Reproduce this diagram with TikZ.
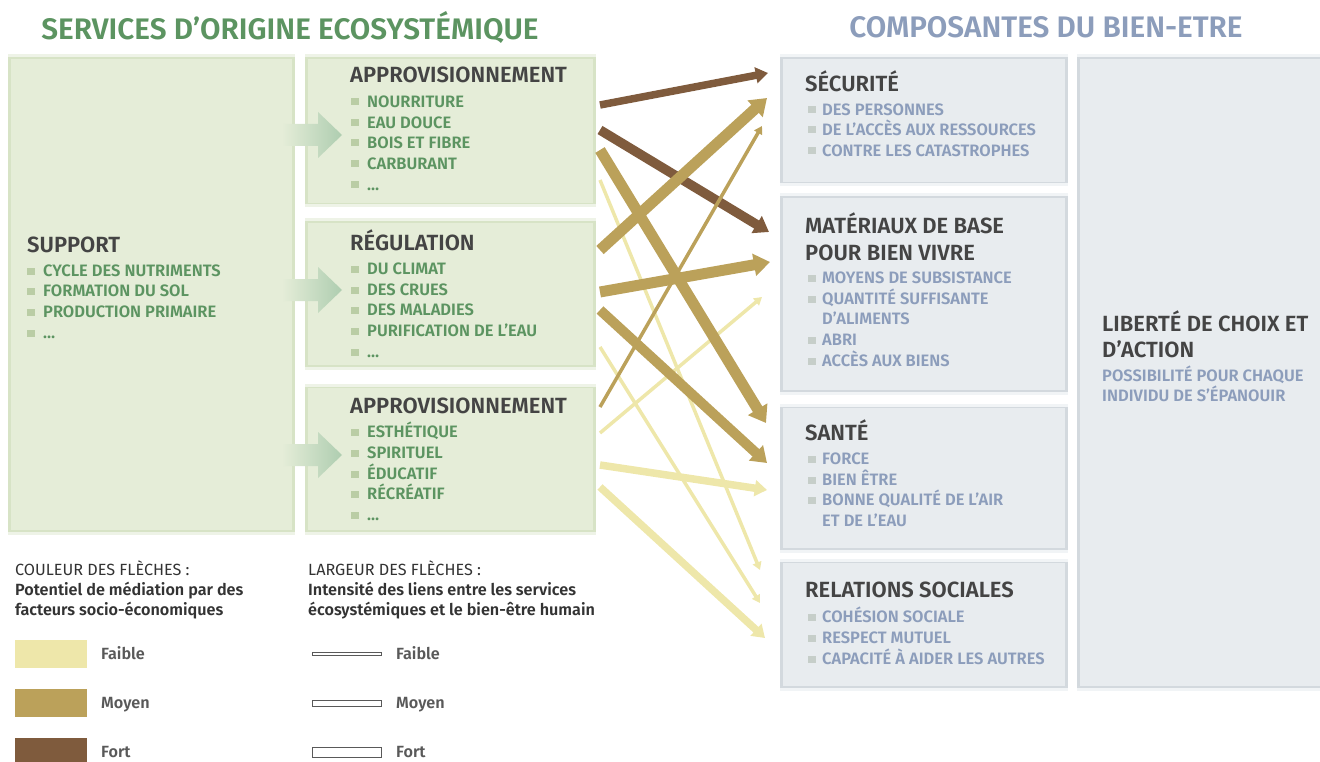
\documentclass[tikz,border=0pt]{standalone}
\usepackage{fontspec}
\setmainfont{Fira Sans}[BoldFont={Fira Sans SemiBold}]
\usetikzlibrary{arrows.meta, positioning, calc}

\definecolor{svcfill}{HTML}{E5EDD8}
\definecolor{svcedge}{HTML}{D7E3C6}
\definecolor{svctop}{HTML}{EEF3E7}
\definecolor{svcgreen}{HTML}{5C9461}
\definecolor{svcbullet}{HTML}{BACDA5}
\definecolor{flowgreen}{HTML}{AECDB0}
\definecolor{wellfill}{HTML}{E8ECEF}
\definecolor{welledge}{HTML}{D3D9DE}
\definecolor{welltop}{HTML}{F1F4F6}
\definecolor{wellblue}{HTML}{8C9DBB}
\definecolor{wellbullet}{HTML}{C6CEC9}
\definecolor{headgray}{HTML}{444444}
\definecolor{leggray}{HTML}{333333}
\definecolor{faiblecol}{HTML}{EEE7AA}
\definecolor{moyencol}{HTML}{BBA15A}
\definecolor{fortcol}{HTML}{7F5B3D}

\begin{document}
\begin{tikzpicture}[
    x=1pt, y=-1pt,
    svcbox/.style={rectangle, fill=svcfill, draw=svcedge, line width=3pt, inner sep=0pt, anchor=north west},
    wellbox/.style={rectangle, fill=wellfill, draw=welledge, line width=3pt, inner sep=0pt, anchor=north west},
    head/.style={anchor=west, inner sep=0pt, text height=15pt, text depth=0pt, text=headgray, font=\fontsize{22}{26}\selectfont\bfseries},
    item/.style={anchor=west, inner sep=0pt, text height=11.3pt, text depth=0pt, font=\fontsize{16.5}{19}\selectfont\bfseries},
    bullet/.style={rectangle, minimum width=8pt, minimum height=7pt, inner sep=0pt},
    legtxt/.style={anchor=west, inner sep=0pt, text height=11pt, text depth=0pt, text=leggray, font=\fontsize{16.2}{19}\selectfont},
    legbold/.style={legtxt, font=\fontsize{16.2}{19}\selectfont\bfseries},
    leglevel/.style={legtxt, text=black!65, font=\fontsize{16.2}{19}\selectfont\bfseries},
    swatch/.style={rectangle, minimum width=72pt, minimum height=28pt, inner sep=0pt},
    widthbar/.style={rectangle, draw=black!65, fill=white, line width=1pt, minimum width=69pt, inner sep=0pt},
    link/.style={-{Triangle[length=4pt 1.1, width=3pt 1.7]}},
    slim/.style={link, line width=3.5pt},
    mid/.style={link, line width=7.5pt},
    heavy/.style={link, line width=11pt}
]
\useasboundingbox (0,0) rectangle (1320,762);

% Titles
\node[inner sep=0pt, text=svcgreen, font=\fontsize{29.7}{34}\selectfont\bfseries] (svctitle) at (290,27) {SERVICES D’ORIGINE ECOSYSTÉMIQUE};
\node[inner sep=0pt, text=wellblue, font=\fontsize{29.7}{34}\selectfont\bfseries] (welltitle) at (1046,27) {COMPOSANTES DU BIEN-ETRE};

% Ecosystem service boxes
\node[svcbox, minimum width=284pt, minimum height=474pt] (support) at (8,56) {};
\node[svcbox, minimum width=288pt, minimum height=147pt] (appro) at (305,56) {};
\node[svcbox, minimum width=288pt, minimum height=145pt] (regul) at (305,220) {};
\node[svcbox, minimum width=288pt, minimum height=145pt] (cultu) at (305,385) {};
\foreach \b in {support,appro,regul,cultu} {
    \draw[svctop, line width=3pt] (\b.north west) -- (\b.north east);
    \draw[svctop, line width=3pt] (\b.south west) -- (\b.south east);
}

% Flow from support to the other services
\foreach \y in {135,290,455} {
    \shade[left color=svcfill, right color=flowgreen] (282,\y-11) -- (318,\y-11) -- (318,\y-23) -- (342,\y) -- (318,\y+23) -- (318,\y+11) -- (282,\y+11) -- cycle;
}

% Support
\node[head] (supporthd) at (27,245) {SUPPORT};
\foreach \y/\txt in {271/CYCLE DES NUTRIMENTS, 291/FORMATION DU SOL, 312/PRODUCTION PRIMAIRE, 333/…} {
    \node[bullet, fill=svcbullet] (supb\y) at (31,\y) {};
    \node[item, text=svcgreen] (supi\y) at (43,\y) {\txt};
}

% Approvisionnement
\node[head] (approhd) at (350,75) {APPROVISIONNEMENT};
\foreach \y/\txt in {102/NOURRITURE, 123/EAU DOUCE, 143/BOIS ET FIBRE, 164/CARBURANT, 185/…} {
    \node[bullet, fill=svcbullet] (apb\y) at (355,\y) {};
    \node[item, text=svcgreen] (api\y) at (367,\y) {\txt};
}

% Regulation
\node[head] (regulhd) at (350,243) {RÉGULATION};
\foreach \y/\txt in {269/DU CLIMAT, 290/DES CRUES, 310/DES MALADIES, 331/PURIFICATION DE L’EAU, 352/…} {
    \node[bullet, fill=svcbullet] (reb\y) at (355,\y) {};
    \node[item, text=svcgreen] (rei\y) at (367,\y) {\txt};
}

% Culturel
\node[head] (cultuhd) at (350,406) {APPROVISIONNEMENT};
\foreach \y/\txt in {432/ESTHÉTIQUE, 453/SPIRITUEL, 474/ÉDUCATIF, 494/RÉCRÉATIF, 515/…} {
    \node[bullet, fill=svcbullet] (cub\y) at (355,\y) {};
    \node[item, text=svcgreen] (cui\y) at (367,\y) {\txt};
}

% Well-being boxes
\node[wellbox, minimum width=285pt, minimum height=126pt] (secu) at (780,56) {};
\node[wellbox, minimum width=285pt, minimum height=195pt] (mater) at (780,195) {};
\node[wellbox, minimum width=285pt, minimum height=143pt] (sante) at (780,405) {};
\node[wellbox, minimum width=285pt, minimum height=126pt] (social) at (780,560) {};
\node[wellbox, minimum width=243pt, minimum height=630pt] (liberte) at (1077,56) {};
\foreach \b in {secu,mater,sante,social,liberte} {
    \draw[welltop, line width=3pt] (\b.north west) -- (\b.north east);
    \draw[welltop, line width=3pt] (\b.south west) -- (\b.south east);
}

% Securite
\node[head] (secuhd) at (805,84) {SÉCURITÉ};
\foreach \y/\txt in {110/DES PERSONNES, 130/DE L’ACCÈS AUX RESSOURCES, 151/CONTRE LES CATASTROPHES} {
    \node[bullet, fill=wellbullet] (seb\y) at (812,\y) {};
    \node[item, text=wellblue] (sei\y) at (822,\y) {\txt};
}

% Materiaux
\node[head] (materhd) at (805,226) {MATÉRIAUX DE BASE};
\node[head] (materhd2) at (805,253) {POUR BIEN VIVRE};
\foreach \y/\txt in {278/MOYENS DE SUBSISTANCE, 299/QUANTITÉ SUFFISANTE, 340/ABRI, 361/ACCÈS AUX BIENS} {
    \node[bullet, fill=wellbullet] (mab\y) at (812,\y) {};
    \node[item, text=wellblue] (mai\y) at (822,\y) {\txt};
}
\node[item, text=wellblue] (mai319) at (822,319) {D’ALIMENTS};

% Sante
\node[head] (santehd) at (805,433) {SANTÉ};
\foreach \y/\txt in {459/FORCE, 480/BIEN ÊTRE, 500/BONNE QUALITÉ DE L’AIR} {
    \node[bullet, fill=wellbullet] (sab\y) at (812,\y) {};
    \node[item, text=wellblue] (sai\y) at (822,\y) {\txt};
}
\node[item, text=wellblue] (sai521) at (822,521) {ET DE L’EAU};

% Relations sociales
\node[head] (socialhd) at (805,590) {RELATIONS SOCIALES};
\foreach \y/\txt in {617/COHÉSION SOCIALE, 638/RESPECT MUTUEL, 659/CAPACITÉ À AIDER LES AUTRES} {
    \node[bullet, fill=wellbullet] (sob\y) at (812,\y) {};
    \node[item, text=wellblue] (soi\y) at (822,\y) {\txt};
}

% Liberte
\node[head] (libhd) at (1102,324) {LIBERTÉ DE CHOIX ET};
\node[head] (libhd2) at (1102,350) {D’ACTION};
\node[item, text=wellblue] (libi1) at (1102,376) {POSSIBILITÉ POUR CHAQUE};
\node[item, text=wellblue] (libi2) at (1102,396) {INDIVIDU DE S’ÉPANOUIR};

% Arrow ends
\coordinate (from1) at (600,105);  \coordinate (to1) at (768,73);
\coordinate (from2) at (600,130);  \coordinate (to2) at (769,232);
\coordinate (from3) at (600,150);  \coordinate (to3) at (766,423);
\coordinate (from4) at (600,180);  \coordinate (to4) at (760,570);
\coordinate (from5) at (600,250);  \coordinate (to5) at (767,98);
\coordinate (from6) at (600,292);  \coordinate (to6) at (770,262);
\coordinate (from7) at (600,310);  \coordinate (to7) at (767,463);
\coordinate (from8) at (600,347);  \coordinate (to8) at (760,603);
\coordinate (from9) at (600,407);  \coordinate (to9) at (762,126);
\coordinate (from10) at (600,433); \coordinate (to10) at (762,297);
\coordinate (from11) at (600,465); \coordinate (to11) at (767,490);
\coordinate (from12) at (600,487); \coordinate (to12) at (765,638);

% Links: faible, then fort, then moyen on top
\draw[slim, faiblecol] (from4) -- (to4);
\draw[slim, faiblecol] (from8) -- (to8);
\draw[slim, faiblecol] (from10) -- (to10);
\draw[mid, faiblecol] (from11) -- (to11);
\draw[mid, faiblecol] (from12) -- (to12);
\draw[mid, fortcol] (from1) -- (to1);
\draw[heavy, fortcol, line width=9.5pt] (from2) -- (to2);
\draw[heavy, moyencol] (from3) -- (to3);
\draw[heavy, moyencol] (from5) -- (to5);
\draw[heavy, moyencol] (from6) -- (to6);
\draw[heavy, moyencol, line width=10pt] (from7) -- (to7);
\draw[slim, moyencol] (from9) -- (to9);

% Legend: colour
\node[legtxt] (legcol) at (15,570) {COULEUR DES FLÈCHES :};
\node[legbold] (legcol2) at (15,590) {Potentiel de médiation par des};
\node[legbold] (legcol3) at (15,610) {facteurs socio-économiques};
\node[swatch, fill=faiblecol] (swfaible) at (51,654) {};
\node[swatch, fill=moyencol] (swmoyen) at (51,703) {};
\node[swatch, fill=fortcol] (swfort) at (51,752) {};
\node[leglevel] (lgfaible) at (101,654) {Faible};
\node[leglevel] (lgmoyen) at (101,703) {Moyen};
\node[leglevel] (lgfort) at (101,752) {Fort};

% Legend: width
\node[legtxt] (legwid) at (308,570) {LARGEUR DES FLÈCHES :};
\node[legbold] (legwid2) at (308,590) {Intensité des liens entre les services};
\node[legbold] (legwid3) at (308,610) {écosystémiques et le bien-être humain};
\node[widthbar, minimum height=3pt] (wbfaible) at (347,654) {};
\node[widthbar, minimum height=6pt] (wbmoyen) at (347,703) {};
\node[widthbar, minimum height=10pt] (wbfort) at (347,752) {};
\node[leglevel] (lwfaible) at (396,654) {Faible};
\node[leglevel] (lwmoyen) at (396,703) {Moyen};
\node[leglevel] (lwfort) at (396,752) {Fort};

\end{tikzpicture}
\end{document}
